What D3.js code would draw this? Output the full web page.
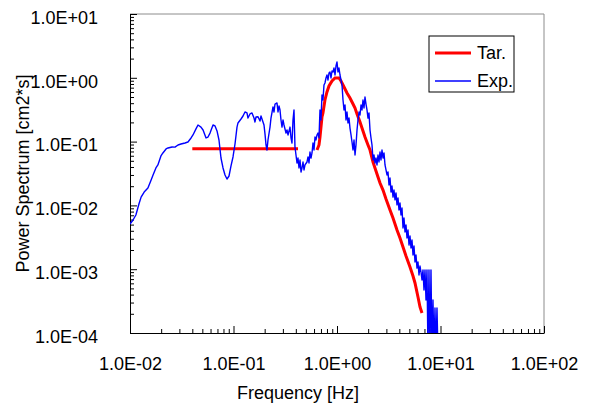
<!DOCTYPE html>
<html>
<head>
<meta charset="utf-8">
<script src="https://cdn.jsdelivr.net/npm/d3@7"></script>
<style>
  body { margin: 0; background: #fff; }
  text { font-family: "Liberation Sans", Arial, sans-serif; fill: #000; }
</style>
</head>
<body>
<svg id="chart" width="593" height="407"></svg>
<script>
// Axis decades and their labels
const xDecades = [0.01, 0.1, 1, 10, 100];
const xTickLabels = ['1.0E-02', '1.0E-01', '1.0E+00', '1.0E+01', '1.0E+02'];
const yDecades = [1e-4, 1e-3, 1e-2, 1e-1, 1, 10];
const yTickLabels = ['1.0E-04', '1.0E-03', '1.0E-02', '1.0E-01', '1.0E+00', '1.0E+01'];

const seriesNames = ['Tar.', 'Exp.'];

// Target spectrum: flat plateau, then the main peak
const tarLow = [[0.040, 0.077], [0.42, 0.077]];
const tarMain = [
  [0.641, 0.0738], [0.670, 0.0885], [0.685, 0.118], [0.716, 0.243], [0.732, 0.281],
  [0.765, 0.449], [0.800, 0.599], [0.837, 0.744], [0.895, 0.891], [0.957, 0.993],
  [1.000, 0.993], [1.045, 0.993], [1.093, 0.891], [1.143, 0.771], [1.195, 0.668],
  [1.249, 0.578], [1.335, 0.483], [1.428, 0.388], [1.493, 0.336], [1.561, 0.271],
  [1.668, 0.203], [1.783, 0.147], [1.864, 0.118], [1.993, 0.0885], [2.084, 0.0738],
  [2.228, 0.0479], [2.328, 0.0386], [2.489, 0.0279], [2.603, 0.0224], [2.783, 0.0174],
  [2.975, 0.0126], [3.252, 0.00847], [3.476, 0.00635], [3.799, 0.00412], [4.061, 0.00308],
  [4.342, 0.00223], [4.642, 0.00161], [5.074, 0.00108], [5.424, 0.000782], [5.670, 0.000608],
  [6.061, 0.000367], [6.337, 0.000256], [6.625, 0.000206]
];

// Measured spectrum [frequency Hz, power]
const expData = [
  [0.0100, 0.00511], [0.0107, 0.00590], [0.0114, 0.00707], [0.0122, 0.0105], [0.0128, 0.0135],
  [0.0137, 0.0162], [0.0149, 0.0187], [0.0160, 0.0250], [0.0167, 0.0300], [0.0178, 0.0386],
  [0.0186, 0.0430], [0.0199, 0.0595], [0.0208, 0.0663], [0.0223, 0.0766], [0.0233, 0.0794],
  [0.0255, 0.0823], [0.0272, 0.0820], [0.0291, 0.0885], [0.0311, 0.0917], [0.0340, 0.0951],
  [0.0363, 0.0986], [0.0389, 0.114], [0.0406, 0.127], [0.0434, 0.158], [0.0454, 0.182],
  [0.0485, 0.169], [0.0508, 0.152], [0.0543, 0.114], [0.0567, 0.118], [0.0593, 0.136],
  [0.0634, 0.182], [0.0663, 0.176], [0.0693, 0.147], [0.0724, 0.106], [0.0757, 0.0553],
  [0.0792, 0.0386], [0.0828, 0.0300], [0.0865, 0.0259], [0.0905, 0.0289], [0.0946, 0.0415],
  [0.0989, 0.0574], [0.1034, 0.0917], [0.1081, 0.169], [0.1105, 0.196], [0.1182, 0.226],
  [0.1236, 0.252], [0.1291, 0.291], [0.1350, 0.281], [0.1380, 0.234], [0.1443, 0.271],
  [0.1509, 0.281], [0.1578, 0.234], [0.1613, 0.203], [0.1650, 0.243], [0.1725, 0.245],
  [0.1803, 0.210], [0.1844, 0.252], [0.1885, 0.226], [0.1971, 0.182], [0.2015, 0.132],
  [0.2061, 0.0885], [0.2107, 0.0738], [0.2154, 0.106], [0.2253, 0.169], [0.2303, 0.234],
  [0.2408, 0.349], [0.2462, 0.291], [0.2518, 0.388], [0.2633, 0.403], [0.2692, 0.291],
  [0.2752, 0.361], [0.2814, 0.313], [0.2877, 0.218], [0.2942, 0.169], [0.3008, 0.218],
  [0.3076, 0.182], [0.3216, 0.136], [0.3288, 0.152], [0.3362, 0.127], [0.3515, 0.169],
  [0.3594, 0.114], [0.3674, 0.0951], [0.3757, 0.218], [0.3841, 0.313], [0.3927, 0.0823],
  [0.4016, 0.0617], [0.4106, 0.0462], [0.4198, 0.0553], [0.4295, 0.0386], [0.4391, 0.0515],
  [0.4490, 0.0334], [0.4591, 0.0386], [0.4694, 0.0479], [0.4800, 0.0359], [0.4908, 0.0430],
  [0.5131, 0.0479], [0.5247, 0.0574], [0.5364, 0.0462], [0.5484, 0.0687], [0.5608, 0.0553],
  [0.5734, 0.0663], [0.5863, 0.0951], [0.5995, 0.0738], [0.6129, 0.118], [0.6267, 0.106],
  [0.6408, 0.127], [0.6551, 0.136], [0.6699, 0.114], [0.6849, 0.313], [0.7003, 0.218],
  [0.7161, 0.538], [0.7321, 0.449], [0.7486, 0.771], [0.7654, 0.829], [0.7827, 0.993],
  [0.8002, 1.106], [0.8185, 0.924], [0.8368, 1.189], [0.8557, 1.233], [0.8750, 0.993],
  [0.8946, 1.278], [0.9148, 1.233], [0.9354, 1.424], [0.9565, 1.106], [0.9779, 1.531],
  [1.000, 1.769], [1.022, 1.233], [1.045, 1.424], [1.069, 1.106], [1.093, 0.924],
  [1.118, 0.771], [1.143, 0.449], [1.169, 0.313], [1.195, 0.375], [1.222, 0.218],
  [1.249, 0.291], [1.277, 0.196], [1.306, 0.234], [1.335, 0.163], [1.366, 0.127],
  [1.396, 0.0986], [1.428, 0.0738], [1.460, 0.106], [1.493, 0.0617], [1.526, 0.0885],
  [1.561, 0.152], [1.595, 0.218], [1.632, 0.291], [1.668, 0.261], [1.706, 0.375],
  [1.744, 0.313], [1.783, 0.449], [1.823, 0.336], [1.864, 0.500], [1.906, 0.388],
  [1.949, 0.313], [1.993, 0.234], [2.038, 0.281], [2.084, 0.152], [2.131, 0.114],
  [2.179, 0.0885], [2.228, 0.0515], [2.278, 0.0617], [2.328, 0.0462], [2.381, 0.0553],
  [2.434, 0.0430], [2.489, 0.0617], [2.545, 0.0479], [2.603, 0.0687], [2.661, 0.0515],
  [2.721, 0.0738], [2.783, 0.0553], [2.846, 0.0663], [2.910, 0.0430], [2.975, 0.0359],
  [3.042, 0.0300], [3.110, 0.0334], [3.180, 0.0209], [3.252, 0.0269], [3.325, 0.0162],
  [3.400, 0.0201], [3.476, 0.0135], [3.553, 0.0174], [3.634, 0.0122], [3.715, 0.0157],
  [3.799, 0.0102], [3.885, 0.0131], [3.972, 0.00847], [4.061, 0.0109], [4.153, 0.00707],
  [4.246, 0.0091], [4.342, 0.00442], [4.439, 0.00635], [4.539, 0.00383], [4.642, 0.00493],
  [4.746, 0.00308], [4.853, 0.00412], [4.962, 0.00239], [5.074, 0.00331], [5.188, 0.00215],
  [5.304, 0.00287], [5.424, 0.00167], [5.546, 0.00231], [5.670, 0.00130], [5.798, 0.00167],
  [5.928, 0.00104], [6.061, 0.00130], [6.198, 0.000811], [6.337, 0.00112], [6.479, 0.000904],
  [6.625, 0.000677], [6.774, 0.000972], [6.926, 0.000472], [7.082, 0.000972], [7.241, 0.000329],
  [7.404, 0.000972], [7.570, 0.00005], [7.740, 0.000972], [7.914, 0.00005], [8.092, 0.000972],
  [8.274, 0.00005], [8.460, 0.000329], [8.650, 0.00005], [8.845, 0.000246], [9.043, 0.00005],
  [9.247, 0.000246], [9.454, 0.00005]
];

const margin = { left: 130, top: 14, right: 49, bottom: 74 };
const width = 593 - margin.left - margin.right;
const height = 407 - margin.top - margin.bottom;

const svg = d3.select('#chart');
const g = svg.append('g')
    .attr('transform', `translate(${margin.left},${margin.top})`);

const x = d3.scaleLog().domain([0.01, 100]).range([0, width]);
const y = d3.scaleLog().domain([1e-4, 10]).range([height, 0]);

const xMinor = x.ticks().filter(d => !xDecades.includes(d));
const yMinor = y.ticks().filter(d => !yDecades.some(v => Math.abs(v - d) / d < 1e-9));

// grey frame on top and right
g.append('path')
    .attr('d', `M0,0H${width}V${height}`)
    .attr('fill', 'none')
    .attr('stroke', '#8c8c8c')
    .attr('stroke-width', 1);

// Minor ticks (no labels)
g.append('g')
    .attr('transform', `translate(0,${height})`)
    .call(d3.axisBottom(x).tickValues(xMinor).tickSize(-4).tickFormat(''))
    .call(a => a.select('.domain').remove());
g.append('g')
    .call(d3.axisLeft(y).tickValues(yMinor).tickSize(-4).tickFormat(''))
    .call(a => a.select('.domain').remove());

// Major ticks with labels
const xAxisG = g.append('g')
    .attr('transform', `translate(0,${height})`)
    .call(d3.axisBottom(x)
      .tickValues(xDecades)
      .tickSizeInner(-7).tickSizeOuter(0)
      .tickPadding(24)
      .tickFormat((d, i) => xTickLabels[i]));
const yAxisG = g.append('g')
    .call(d3.axisLeft(y)
      .tickValues(yDecades)
      .tickSizeInner(-7).tickSizeOuter(0)
      .tickPadding(32)
      .tickFormat((d, i) => yTickLabels[i]));

[xAxisG, yAxisG].forEach(a => {
  a.selectAll('text').style('font-size', '18px').attr('fill', '#000');
  a.select('.domain').attr('stroke', '#000');
});
yAxisG.selectAll('text').attr('dy', '0.52em');

// Axis titles (Excel centres the x title on the whole chart)
svg.append('text')
    .attr('x', 298)
    .attr('y', margin.top + height + 66)
    .attr('text-anchor', 'middle')
    .style('font-size', '18px')
    .text('Frequency [Hz]');
g.append('text')
    .attr('transform', 'rotate(-90)')
    .attr('x', -height / 2)
    .attr('y', -margin.left + 29)
    .attr('text-anchor', 'middle')
    .style('font-size', '18px')
    .text('Power Spectrum [cm2*s]');

// Clip plot lines to the plot area
svg.append('defs').append('clipPath')
    .attr('id', 'plot-clip')
  .append('rect')
    .attr('width', width)
    .attr('height', height);

const line = d3.line()
    .x(d => x(d[0]))
    .y(d => y(d[1]));

const plot = g.append('g').attr('clip-path', 'url(#plot-clip)');

[tarLow, tarMain].forEach(seg => {
  plot.append('path')
      .datum(seg)
      .attr('fill', 'none')
      .attr('stroke', '#ff0000')
      .attr('stroke-width', 3)
      .attr('d', line);
});

plot.append('path')
    .datum(expData)
    .attr('fill', 'none')
    .attr('stroke', '#0000ff')
    .attr('stroke-width', 1.4)
    .attr('stroke-linejoin', 'round')
    .attr('d', line);

// Legend
const legend = svg.append('g').attr('transform', 'translate(429,36)');
legend.append('rect')
    .attr('width', 85)
    .attr('height', 56)
    .attr('fill', '#fff')
    .attr('stroke', '#000')
    .attr('stroke-width', 1);
const legendColors = ['#ff0000', '#0000ff'];
const legendWidths = [3, 1.4];
seriesNames.forEach((name, i) => {
  legend.append('line')
      .attr('x1', 6).attr('x2', 42)
      .attr('y1', 17 + i * 28).attr('y2', 17 + i * 28)
      .attr('stroke', legendColors[i])
      .attr('stroke-width', legendWidths[i]);
  legend.append('text')
      .attr('x', 48)
      .attr('y', 23 + i * 28)
      .style('font-size', '18px')
      .text(name);
});
</script>
</body>
</html>
